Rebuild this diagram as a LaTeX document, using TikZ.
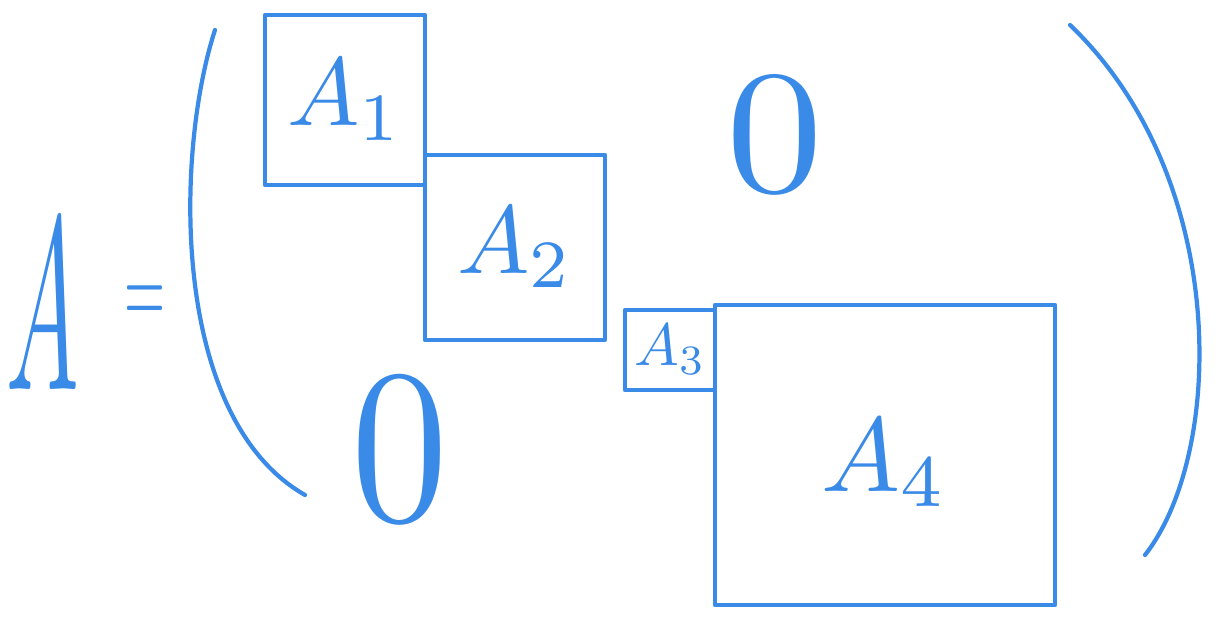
\documentclass[tikz,border=0pt]{standalone}
\usepackage{amsmath}
\usepackage{tikz}
\usetikzlibrary{positioning}
\definecolor{penblue}{RGB}{58, 138, 232}
\tikzset{
  pen/.style      = {draw=penblue, line width=2.4pt, line cap=round, line join=round},
  blockbox/.style = {rectangle, pen, text=penblue, inner sep=0pt},
  bigtxt/.style   = {text=penblue, inner sep=0pt},
}

\begin{document}
\begin{tikzpicture}
  \useasboundingbox (0,0) rectangle (24.32,12.56);

  % left-hand side
  \node[bigtxt] (lhs) at (0.85,6.45) {\scalebox{5.5}[14]{$A$}};
  \node[bigtxt] (eq) at (2.9,6.45) {\scalebox{3}[6]{$=$}};

  % parentheses
  \draw[pen] (4.3,11.96) .. controls (3.5,9.5) and (3.4,4.2) .. (6.1,2.66);
  \draw[pen] (21.4,12.06) .. controls (24.6,9) and (24.5,3.5) .. (22.9,1.46);

  % diagonal blocks
  \node[blockbox, minimum width=3.2cm, minimum height=3.4cm] (b1) at (6.9,10.56) {\scalebox{5.5}{$A_1$}};
  \node[blockbox, minimum width=3.6cm, minimum height=3.7cm] (b2) at (10.3,7.61) {\scalebox{5.5}{$A_2$}};
  \node[blockbox, minimum width=1.8cm, minimum height=1.6cm] (b3) at (13.4,5.56) {\scalebox{3.4}{$A_3$}};
  \node[blockbox, minimum width=6.8cm, minimum height=6.0cm,
        text depth=-0.6cm] (b4) at (17.7,3.46) {\scalebox{6}{$A_4$}};

  % zero blocks
  \node[bigtxt] (zup) at (15.5,9.86) {\scalebox{11}[10]{$0$}};
  \node[bigtxt] (zlo) at (8.0,3.56) {\scalebox{11}[12.5]{$0$}};
\end{tikzpicture}
\end{document}
